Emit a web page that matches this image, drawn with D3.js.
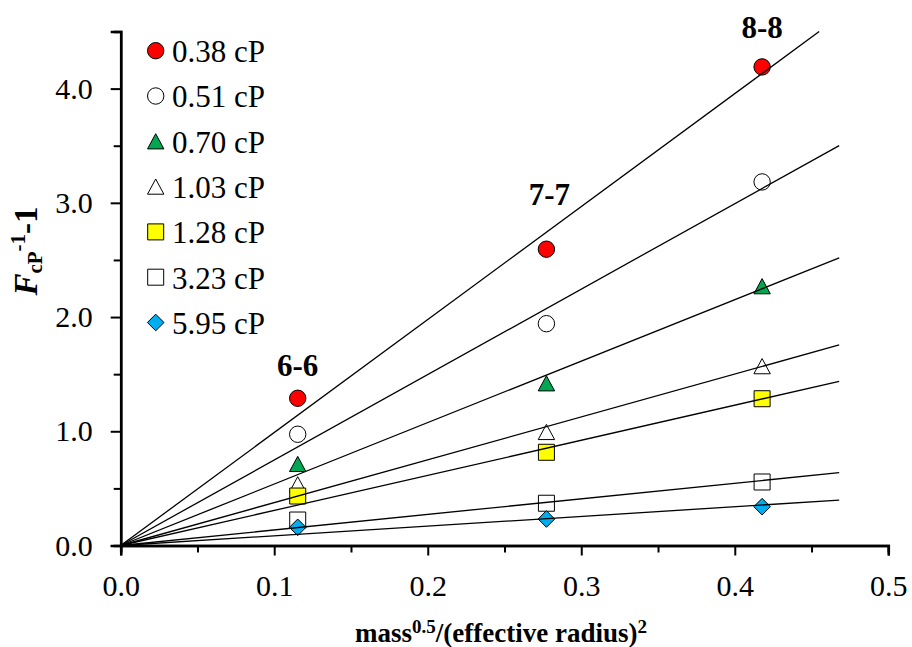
<!DOCTYPE html>
<html>
<head>
<meta charset="utf-8">
<script src="https://cdn.jsdelivr.net/npm/d3@7"></script>
<style>
  body { margin: 0; background: #fff; }
  svg text { font-family: "Liberation Serif", "Times New Roman", serif; fill: #000; }
</style>
</head>
<body>
<svg id="chart" width="912" height="647" font-family="Liberation Serif, Times New Roman, serif"></svg>
<script>
// Ring sizes and their abscissa mass^0.5/(effective radius)^2
const ringLabels = ["6-6", "7-7", "8-8"];
const xValues = [0.1153, 0.2773, 0.4178];

// Solvent viscosities (legend entries)
const viscosities = ["0.38 cP", "0.51 cP", "0.70 cP", "1.03 cP", "1.28 cP", "3.23 cP", "5.95 cP"];

// F_cP^-1 - 1 for each viscosity, one value per ring size
const y038 = [1.289, 2.594, 4.190];
const y051 = [0.974, 1.942, 3.183];
const y070 = [0.714, 1.420, 2.270];
const y103 = [0.536, 0.994, 1.570];
const y128 = [0.433, 0.816, 1.285];
const y323 = [0.223, 0.370, 0.556];
const y595 = [0.159, 0.232, 0.340];
const seriesValues = [y038, y051, y070, y103, y128, y323, y595];

// Axis ticks
const xMajorTicks = [0.0, 0.1, 0.2, 0.3, 0.4, 0.5];
const xMinorTicks = [0.05, 0.15, 0.25, 0.35, 0.45];
const yMajorTicks = [0.0, 1.0, 2.0, 3.0, 4.0];
const yMinorTicks = [0.5, 1.5, 2.5, 3.5, 4.5];

// Trendlines (through the origin) are drawn out to this abscissa
const trendEnd = 0.468;

// Marker styles per series
const markerShapes = ["circle", "circle", "triangle", "triangle", "square", "square", "diamond"];
const markerFills = ["#ff0000", "#ffffff", "#00a651", "#ffffff", "#ffff00", "#ffffff", "#00aeef"];

const serif = '"Liberation Serif", "Times New Roman", serif';
const svg = d3.select("#chart");
const x = d3.scaleLinear().domain([0, 0.5]).range([120.7, 888.3]);
const y = d3.scaleLinear().domain([0, 4.5]).range([545.5, 31.5]);

function markerPath(shape) {
  const p = d3.path();
  if (shape === "circle") {
    p.arc(0, 0, 8.2, 0, 2 * Math.PI);
  } else if (shape === "triangle") {
    p.moveTo(0, -7.6); p.lineTo(8.2, 7.6); p.lineTo(-8.2, 7.6); p.closePath();
  } else if (shape === "square") {
    p.rect(-8, -8, 16, 16);
  } else {
    p.moveTo(0, -8.3); p.lineTo(8.3, 0); p.lineTo(0, 8.3); p.lineTo(-8.3, 0); p.closePath();
  }
  return p.toString();
}

// Axes: minor ticks first, then major ticks with labels
const xMinor = d3.axisBottom(x).tickValues(xMinorTicks).tickSize(7).tickFormat("");
const xMajor = d3.axisBottom(x).tickValues(xMajorTicks).tickSize(10).tickPadding(19).tickFormat(d3.format(".1f"));
const yMinor = d3.axisLeft(y).tickValues(yMinorTicks).tickSize(7).tickFormat("");
const yMajor = d3.axisLeft(y).tickValues(yMajorTicks).tickSize(10).tickPadding(18).tickFormat(d3.format(".1f"));

function styleAxis(g) {
  g.attr("font-family", serif);
  g.select(".domain").attr("stroke", "#000").attr("stroke-width", 2.5);
  g.selectAll(".tick line").attr("stroke", "#000").attr("stroke-width", 2);
  g.selectAll(".tick text").attr("font-size", 30).attr("fill", "#000")
    .style("font-family", serif);
}

svg.append("g").attr("transform", `translate(0,${y(0)})`).call(xMinor).call(styleAxis);
svg.append("g").attr("transform", `translate(0,${y(0)})`).call(xMajor).call(styleAxis);
svg.append("g").attr("transform", `translate(${x(0)},0)`).call(yMinor).call(styleAxis);
svg.append("g").attr("transform", `translate(${x(0)},0)`).call(yMajor).call(styleAxis);

// Markers
const points = svg.append("g");
seriesValues.forEach((vals, si) => {
  points.selectAll(null).data(vals).enter().append("path")
    .attr("d", markerPath(markerShapes[si]))
    .attr("transform", (d, i) => `translate(${x(xValues[i])},${y(d)})`)
    .attr("fill", markerFills[si])
    .attr("stroke", "#000")
    .attr("stroke-width", 1);
});

// Least-squares trendlines forced through the origin
const yMax = y.domain()[1];
const lines = svg.append("g");
seriesValues.forEach(vals => {
  const sxy = d3.sum(vals, (v, i) => v * xValues[i]);
  const sxx = d3.sum(xValues, v => v * v);
  const slope = sxy / sxx;
  const xe = Math.min(trendEnd, yMax / slope);
  lines.append("line")
    .attr("x1", x(0)).attr("y1", y(0))
    .attr("x2", x(xe)).attr("y2", y(slope * xe))
    .attr("stroke", "#000").attr("stroke-width", 1.3);
});

// Ring-size labels above the top series
const labelOffsets = [22, 44, 29];
svg.append("g").selectAll("text").data(ringLabels).enter().append("text")
  .attr("x", (d, i) => x(xValues[i]) + [0, 3, 0][i])
  .attr("y", (d, i) => y(y038[i]) - labelOffsets[i])
  .attr("text-anchor", "middle")
  .attr("font-size", 31).attr("font-weight", "bold")
  .style("font-family", serif)
  .text(d => d);

// Legend
const legend = svg.append("g");
viscosities.forEach((name, i) => {
  const ly = 50.7 + i * 45.3;
  legend.append("path")
    .attr("d", markerPath(markerShapes[i]))
    .attr("transform", `translate(155.7,${ly})`)
    .attr("fill", markerFills[i]).attr("stroke", "#000").attr("stroke-width", 1);
  legend.append("text")
    .attr("x", 172).attr("y", ly).attr("dy", "0.37em")
    .attr("font-size", 31).style("font-family", serif).text(name);
});

// Axis titles
const xTitle = svg.append("text")
  .attr("x", 501).attr("y", 641.5).attr("text-anchor", "middle")
  .attr("font-size", 27).attr("font-weight", "bold").style("font-family", serif);
xTitle.append("tspan").text("mass");
xTitle.append("tspan").attr("font-size", 19).attr("dy", -9).text("0.5");
xTitle.append("tspan").attr("dy", 9).text("/(effective radius)");
xTitle.append("tspan").attr("font-size", 19).attr("dy", -9).text("2");

const yTitle = svg.append("text")
  .attr("transform", "translate(37,251) rotate(-90)")
  .attr("text-anchor", "middle")
  .attr("font-size", 33).attr("font-weight", "bold").style("font-family", serif);
yTitle.append("tspan").attr("font-style", "italic").text("F");
yTitle.append("tspan").attr("font-size", 21).attr("dy", 5).text("cP");
yTitle.append("tspan").attr("font-size", 21).attr("dy", -17).text("-1");
yTitle.append("tspan").attr("dy", 12).text("-1");
</script>
</body>
</html>
